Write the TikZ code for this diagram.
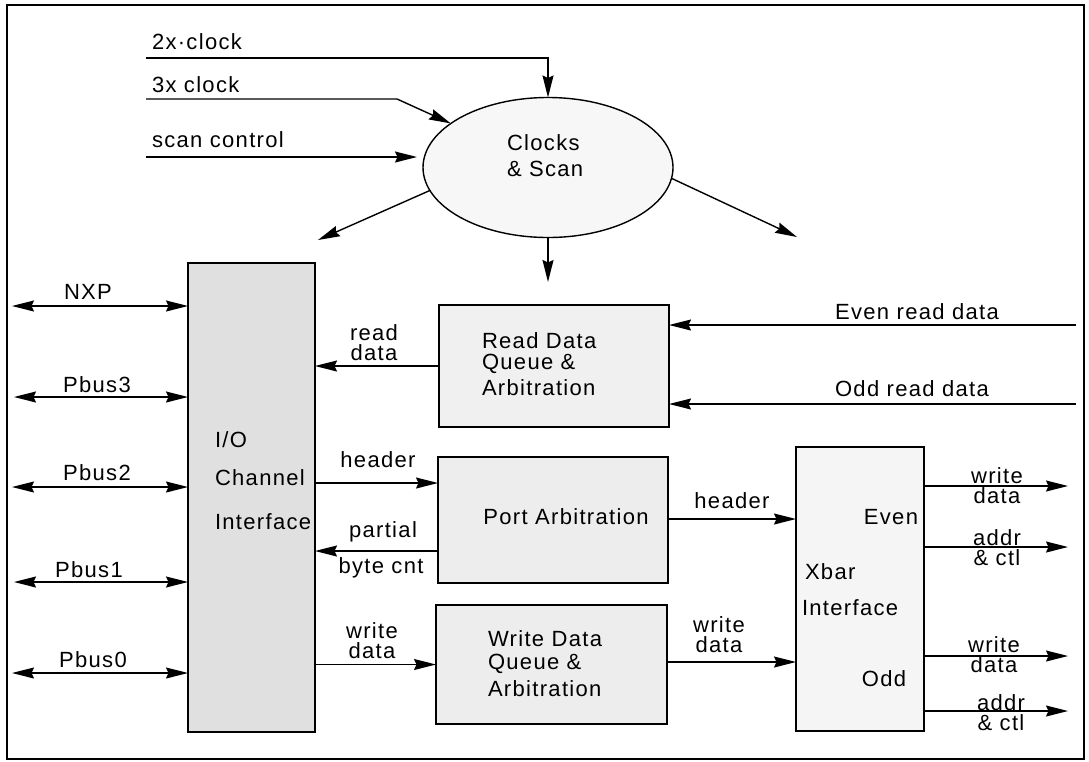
\documentclass[tikz,border=0pt]{standalone}
\usepackage{fontspec}
\setmainfont{Liberation Sans}[LetterSpace=6]
\usetikzlibrary{arrows.meta,shapes.geometric}
\begin{document}
\begin{tikzpicture}[x=1pt,y=-1pt,
  font=\fontsize{22}{22}\selectfont,
  every node/.style={inner sep=0pt,outer sep=0pt},
  ln/.style={line width=1.4pt},
  arr/.style={ln,-{Stealth[length=22pt,width=11pt,inset=2.5pt]}},
  dbl/.style={ln,{Stealth[length=22pt,width=11pt,inset=2.5pt]}-{Stealth[length=22pt,width=11pt,inset=2.5pt]}},
  blk/.style={draw,line width=1.4pt,rectangle},
  lbl/.style={align=center,font=\fontsize{22}{20}\selectfont},
  lbll/.style={align=left,anchor=west}
]
\useasboundingbox (0,0) rectangle (1089,761);
\draw[line width=1.3pt] (7,5) rectangle (1084,759);

% blocks
\node[blk,fill=black!12,minimum width=127pt,minimum height=469pt] (io) at (251.5,497.5) {};
\node[blk,fill=black!6,minimum width=230pt,minimum height=122pt] (rd) at (554,366) {};
\node[blk,fill=black!7,minimum width=230pt,minimum height=126pt] (pa) at (553,520) {};
\node[blk,fill=black!7,minimum width=231pt,minimum height=119pt] (wd) at (551.5,664.5) {};
\node[blk,fill=black!4,minimum width=128pt,minimum height=284pt] (xb) at (860,589) {};
\node[draw,line width=1.4pt,ellipse,fill=black!3,minimum width=250pt,minimum height=140pt] (clk) at (548,167.5) {};

% block texts
\node[lbll] (tio1) at (215,440) {I/O};
\node[lbll] (tio2) at (215,478) {Channel};
\node[lbll] (tio3) at (215,522) {Interface};
\node[lbll] (tclk1) at (507,143) {Clocks};
\node[lbll] (tclk2) at (507,169) {\& Scan};
\node[lbll] (trd1) at (482,341) {Read Data};
\node[lbll] (trd2) at (482,364) {Queue \&};
\node[lbll] (trd3) at (482,388) {Arbitration};
\node (tpa) at (566,517) {Port Arbitration};
\node[lbll] (twd1) at (488,639) {Write Data};
\node[lbll] (twd2) at (488,664) {Queue \&};
\node[lbll] (twd3) at (488,689) {Arbitration};
\node[anchor=east] (teven) at (918,517) {Even};
\node[lbll] (txb1) at (805,572) {Xbar};
\node[lbll] (txb2) at (802,608) {Interface};
\node (todd) at (884,679) {Odd};

% clock inputs
\coordinate (c2) at (146,58);
\coordinate (c3) at (146,99);
\coordinate (c3b) at (397,99);
\coordinate (sc) at (146,157);
\draw[arr] (c2) -| (clk.north);
\draw[arr] (c3) -- (c3b) -- (clk);
\draw[arr,shorten >=6pt] (sc) -- (sc -| clk.west);
\node[lbll] (l2x) at (152,42) {2x·clock};
\node[lbll] (l3x) at (152,85) {3x clock};
\node[lbll] (lsc) at (152,140) {scan control};

% clock outputs
\coordinate (o1) at (318,240);
\coordinate (o2) at (797,237);
\coordinate (o3) at (0,282);
\draw[arr] (clk.191) -- (o1);
\draw[arr] (clk.-5) -- (o2);
\draw[arr] (clk.south) -- (clk.south |- o3);

% left buses
\coordinate (bN) at (12,306);
\coordinate (b3) at (14,397);
\coordinate (b2) at (12,487);
\coordinate (b1) at (14,582);
\coordinate (b0) at (12,673);
\draw[dbl] (bN) -- (bN -| io.west);
\draw[dbl] (b3) -- (b3 -| io.west);
\draw[dbl] (b2) -- (b2 -| io.west);
\draw[dbl] (b1) -- (b1 -| io.west);
\draw[dbl] (b0) -- (b0 -| io.west);
\node (lN) at (88,292) {NXP};
\node (l3) at (97,385) {Pbus3};
\node (l2) at (97,473) {Pbus2};
\node (l1) at (89,570) {Pbus1};
\node (l0) at (93,660) {Pbus0};

% io <-> middle blocks
\coordinate (hdr) at (0,483);
\coordinate (par) at (0,551);
\draw[arr] (rd.west) -- (rd.west -| io.east);
\draw[arr] (io.east |- hdr) -- (pa.west |- hdr);
\draw[arr] (pa.west |- par) -- (io.east |- par);
\draw[arr] (wd.west -| io.east) -- (wd.west);
\node[lbl] (lrd) at (374,343) {read\\data};
\node (lhd) at (378,460) {header};
\node (lpar) at (383,532) {partial};
\node (lbc) at (381,568) {byte cnt};
\node[lbl] (lwd) at (372,641) {write\\data};

% read inputs
\coordinate (er) at (1076,325);
\coordinate (od) at (1076,404);
\draw[arr] (er) -- (er -| rd.east);
\draw[arr] (od) -- (od -| rd.east);
\node (ler) at (917,312) {Even read data};
\node (lod) at (912,389) {Odd read data};

% middle -> xbar
\coordinate (hx) at (0,519);
\coordinate (wx) at (0,662);
\draw[arr] (pa.east |- hx) -- (xb.west |- hx);
\draw[arr] (wd.east |- wx) -- (xb.west |- wx);
\node (lhd2) at (732,501) {header};
\node[lbl] (lwd2) at (719,635) {write\\data};

% xbar outputs
\coordinate (x1) at (1068,486);
\coordinate (x2) at (1068,547);
\coordinate (x3) at (1068,656);
\coordinate (x4) at (1068,711);
\draw[arr] (x1 -| xb.east) -- (x1);
\draw[arr] (x2 -| xb.east) -- (x2);
\draw[arr] (x3 -| xb.east) -- (x3);
\draw[arr] (x4 -| xb.east) -- (x4);
\node[lbl] (lx1) at (997,486) {write\\data};
\node[lbl] (lx2) at (997,548) {addr\\\& ctl};
\node[lbl] (lx3) at (994,655) {write\\data};
\node[lbl] (lx4) at (1001,713) {addr\\\& ctl};
\end{tikzpicture}
\end{document}
